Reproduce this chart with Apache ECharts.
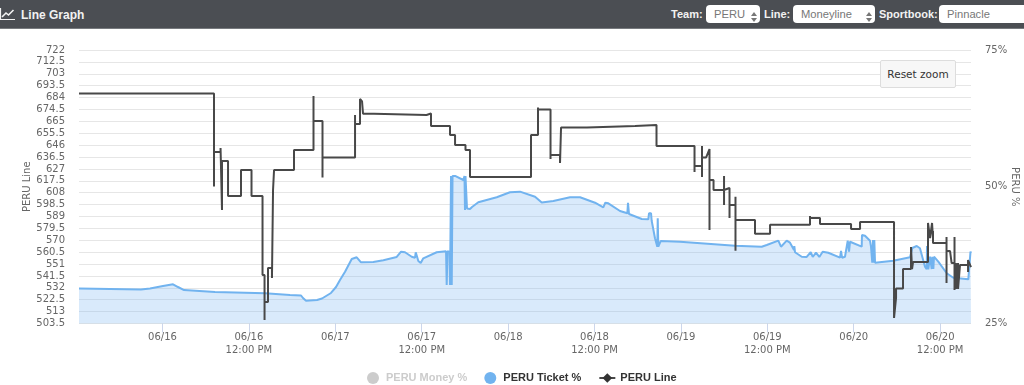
<!DOCTYPE html>
<html>
<head>
<meta charset="utf-8">
<title>Line Graph</title>
<script src="https://cdn.jsdelivr.net/npm/echarts@6/dist/echarts.min.js"></script>
<style>
  html, body { margin: 0; padding: 0; background: #fff; overflow: hidden; }
  #chart { position: absolute; left: 0; top: 0; width: 1024px; height: 385px; }
  #bar { position: absolute; left: 0; top: 0; width: 1024px; height: 28px; background: #4b4e53; border-bottom: 1px solid #777a7e;
         font-family: "Liberation Sans", sans-serif; overflow: hidden; }
  #bar svg.icon { position: absolute; left: 0; top: 7px; }
  #bar .title { position: absolute; left: 21px; top: 8px; color: #f2f2f2; font-size: 12px; font-weight: bold; }
  #bar .lbl { position: absolute; top: 8px; color: #f2f2f2; font-size: 11px; font-weight: bold; }
  #bar .sel { position: absolute; top: 5px; height: 18px; line-height: 18px; background: #fff; border-radius: 4px; color: #777;
              font-size: 11.2px; padding-left: 8px; box-sizing: border-box; }
  #bar .sel i { position: absolute; right: 3px; top: 4px; width: 6px; height: 10px; }
  #reset { position: absolute; left: 880px; top: 60px; width: 76px; height: 28px; line-height: 26px; box-sizing: border-box;
           background: #f7f7f7; border: 1px solid #ddd; border-radius: 2px; color: #333; text-align: center;
           font-family: "DejaVu Sans", sans-serif; font-size: 10.5px; }
</style>
</head>
<body>
<div id="chart"></div>
<div id="bar">
  <svg class="icon" width="16" height="14" viewBox="0 0 16 14"><path d="M0.5 1V12.5H15" fill="none" stroke="#f2f2f2" stroke-width="1.2"/><path d="M2 10L6 6L8.5 8L13.5 3" fill="none" stroke="#f2f2f2" stroke-width="1.6"/></svg>
  <span class="title">Line Graph</span>
  <span class="lbl" style="left:671px">Team:</span>
  <div class="sel" style="left:706px;width:54px">PERU<i><svg width="6" height="10"><path d="M0 4L3 0L6 4ZM0 6L3 10L6 6Z" fill="#777"/></svg></i></div>
  <span class="lbl" style="left:764px">Line:</span>
  <div class="sel" style="left:793px;width:82px">Moneyline<i><svg width="6" height="10"><path d="M0 4L3 0L6 4ZM0 6L3 10L6 6Z" fill="#777"/></svg></i></div>
  <span class="lbl" style="left:879px">Sportbook:</span>
  <div class="sel" style="left:939px;width:95px">Pinnacle</div>
</div>
<div id="reset">Reset zoom</div>
<script>
// x values are hours counted from 06/16 00:00
const X_MIN = -11.6;
const X_MAX = 112.29;
const tickHours = [0, 12, 24, 36, 48, 60, 72, 84, 96, 108];
const tickLabels = ['06/16', '06/16\n12:00 PM', '06/17', '06/17\n12:00 PM', '06/18', '06/18\n12:00 PM', '06/19', '06/19\n12:00 PM', '06/20', '06/20\n12:00 PM'];

const moneyPercent = [];

const ticketPercent = [
  [-11.6, 31.4], [-2.99, 31.2], [-1.74, 31.4], [0.07, 31.86], [1.46, 32.17], [2.15, 31.67], [2.99, 31.12], [7.29, 30.76],
  [14.24, 30.52], [17.71, 30.21], [19.24, 30.12], [19.51, 29.66], [19.93, 29.17], [21.46, 29.3], [22.15, 29.57], [23.4, 30.58],
  [24.1, 31.67], [24.65, 32.95], [25.35, 34.47], [26.28, 36.79], [26.97, 37.1], [27.15, 36.97], [27.57, 36.19], [29.28, 36.24],
  [30.67, 36.55], [32.53, 37.16], [33.13, 38.13], [33.68, 38.02], [34.61, 37.21], [35.07, 37.03], [35.17, 38.02], [35.53, 36.43],
  [35.86, 36.06], [36.22, 36.92], [38.08, 38.02], [39.38, 38.2], [39.47, 32.04], [39.58, 38.2], [39.86, 38.07], [39.93, 32.04],
  [40.07, 51.97], [40.17, 32.04], [40.28, 51.97], [40.63, 51.97], [41.78, 51.23], [41.94, 51.97], [42.01, 45.75], [42.08, 51.97],
  [42.22, 51.97], [42.29, 46.02], [42.71, 45.93], [42.99, 46.3], [43.86, 47.16], [46.42, 48.07], [48.26, 48.99], [49.65, 49.1],
  [51.74, 48.18], [52.67, 47.12], [54.28, 47.4], [56.6, 48.07], [57.99, 48.07], [60.07, 47.08], [61.22, 46.24], [61.46, 45.88],
  [61.5, 47.08], [61.92, 46.97], [63.54, 45.57], [64.56, 45.15], [64.65, 47.08], [64.79, 45.02], [66.56, 44.1], [67.47, 44.05],
  [67.57, 45.15], [67.85, 45.15], [67.94, 43.79], [68.4, 40.58], [68.72, 39.04], [68.78, 44.23], [68.86, 39.04], [69.19, 40.08],
  [71.88, 39.95], [79.51, 39.22], [83.22, 39.04], [83.92, 39.35], [85.53, 40.14], [85.9, 39.04], [86.69, 40.14], [87.15, 39.77],
  [87.71, 38.44], [87.75, 39.17], [87.85, 38.02], [88.78, 37.21], [89.47, 37.16], [90.03, 38.07], [90.31, 37.16], [90.76, 37.94],
  [91.22, 37.16], [91.69, 38.13], [92.47, 37.94], [94.1, 37.03], [94.24, 38.25], [94.38, 37.03], [94.79, 37.21], [95.17, 40.14],
  [95.35, 38.13], [95.49, 39.95], [97.11, 39.04], [97.15, 41.18], [97.57, 41.05], [98.26, 40.14], [98.4, 39.04], [98.58, 36.12],
  [98.68, 40.27], [98.78, 36.12], [98.86, 40.27], [98.96, 36.12], [101.5, 36.48], [103.82, 37.1], [104.14, 38.8], [104.75, 39.17],
  [105.2, 38.75], [105.9, 35.38], [106.14, 34.91], [106.18, 39.17], [106.36, 34.91], [106.6, 37.21], [106.83, 34.96], [106.92, 37.21],
  [107.06, 34.96], [107.15, 37.21], [107.75, 36.3], [108.92, 34.18], [109.83, 33.37], [111.92, 33.08], [112.15, 32.95], [112.22, 38.13],
  [112.29, 37.89],
];

const peruLine = [
  [-11.6, 687.3], [7.15, 687.3], [7.15, 613], [7.15, 640.5], [8.06, 640.5], [8.06, 643.7], [8.26, 594.2], [8.26, 633.3],
  [9.1, 633.3], [9.1, 605.4], [10.9, 605.4], [10.9, 626.1], [12.36, 626.1], [12.36, 605.4], [13.89, 605.4], [13.89, 542.3],
  [14.17, 542.3], [14.17, 506.3], [14.17, 520.7], [14.65, 520.7], [14.65, 547.8], [15.2, 547.8], [15.2, 539.9], [15.35, 610.2],
  [15.49, 610.2], [15.49, 626.1], [18.26, 626.1], [18.26, 642.1], [20.97, 642.1], [20.97, 685.3], [20.97, 665.3], [22.22, 665.3],
  [22.22, 620.2], [22.22, 636.1], [26.74, 636.1], [26.74, 670.1], [26.74, 662.9], [27.15, 662.9], [27.43, 662.9], [27.43, 682.9],
  [27.71, 680.9], [27.85, 671.1], [29.37, 671.1], [29.37, 670.1], [36.67, 670.1], [36.67, 671.3], [37.29, 671.3], [37.29, 661.3],
  [39.93, 661.3], [39.93, 654.1], [40.63, 654.1], [40.63, 646.1], [42.08, 646.1], [42.08, 642.1], [42.71, 642.1], [42.71, 620.5],
  [51.18, 620.5], [51.18, 654.1], [52.15, 654.1], [52.15, 676.1], [52.15, 674.5], [53.89, 674.5], [53.89, 634.9], [53.89, 638.1],
  [55.21, 638.1], [55.21, 631.7], [55.35, 660.1], [58.96, 660.1], [58.96, 661.3], [65.63, 661.3], [65.63, 662.1], [68.61, 662.1],
  [68.61, 645.3], [73.89, 645.3], [73.89, 624.5], [73.89, 629.3], [74.93, 629.3], [74.93, 645.3], [74.93, 620.5], [74.93, 636.1],
  [75.49, 636.1], [75.97, 642.9], [75.97, 578.2], [75.97, 618.2], [76.53, 618.2], [76.53, 610.2], [77.99, 610.2], [77.99, 621.4],
  [77.99, 598.2], [77.99, 610.2], [78.75, 611.8], [78.75, 587.8], [78.75, 598.2], [79.58, 598.2], [79.58, 604.8], [79.58, 561.7],
  [79.58, 586.2], [82.29, 586.2], [82.29, 575.3], [84.38, 575.3], [84.38, 582.4], [89.93, 582.4], [89.93, 589.4], [89.93, 587.8],
  [91.32, 587.8], [91.32, 583], [95.63, 583], [95.63, 579], [96.88, 579], [96.88, 584.6], [101.6, 584.6], [101.6, 507.9],
  [101.88, 523.9], [101.88, 531.5], [102.85, 531.5], [102.85, 547], [103.96, 547], [103.96, 564.6], [104.1, 547], [104.24, 552.6],
  [106.32, 552.6], [106.32, 583.8], [106.6, 571.8], [106.88, 583.8], [107.01, 571.8], [107.01, 577.4], [107.01, 567.8], [108.89, 567.8],
  [108.89, 572.6], [108.89, 535.9], [108.89, 561.4], [109.38, 561.4], [109.6, 560.6], [109.6, 551.8], [110, 551.8], [110, 572.6],
  [110, 530.3], [110.2, 551.8], [110.2, 531.1], [110.49, 551.8], [110.49, 531.1], [110.76, 531.1], [110.76, 550.2], [111.88, 550.2],
  [111.88, 544.6], [111.88, 554.2], [112.29, 548.6],
];

const chart = echarts.init(document.getElementById('chart'));

chart.setOption({
  animation: false,
  backgroundColor: '#fff',
  textStyle: { fontFamily: '"DejaVu Sans", sans-serif' },
  grid: { left: 79, right: 53, top: 50, bottom: 61.5, outerBoundsMode: 'none' },
  legend: {
    bottom: 1,
    left: 367,
    padding: 0,
    itemWidth: 16,
    itemHeight: 12,
    itemGap: 17,
    inactiveColor: '#ccc',
    textStyle: { fontFamily: '"Liberation Sans", sans-serif', fontSize: 11, fontWeight: 'bold', color: '#333' },
    selected: { 'PERU Money %': false },
    data: [
      { name: 'PERU Money %', icon: 'circle' },
      { name: 'PERU Ticket %', icon: 'circle' },
      { name: 'PERU Line' },
    ],
  },
  xAxis: {
    type: 'value',
    min: X_MIN,
    max: X_MAX,
    splitLine: { show: false },
    axisLine: { show: false },
    axisTick: { show: true, customValues: tickHours, length: 9, lineStyle: { color: '#ccd6eb' } },
    axisLabel: {
      customValues: tickHours,
      color: '#666',
      fontSize: 10,
      lineHeight: 13,
      margin: 7,
      formatter: v => tickLabels[tickHours.indexOf(v)],
    },
  },
  yAxis: [
    {
      type: 'value',
      name: 'PERU Line',
      nameLocation: 'middle',
      nameGap: 47,
      nameMoveOverlap: false,
      nameTextStyle: { color: '#666', fontSize: 10 },
      min: 503.5,
      max: 722,
      interval: 9.5,
      axisLine: { show: false },
      axisTick: { show: false },
      axisLabel: { color: '#666', fontSize: 10, margin: 14, padding: [2, 0, 0, 0] },
      splitLine: { lineStyle: { color: '#e6e6e6' } },
    },
    {
      type: 'value',
      name: 'PERU %',
      nameLocation: 'middle',
      nameGap: 39,
      nameMoveOverlap: false,
      nameRotate: -90,
      nameTextStyle: { color: '#666', fontSize: 10 },
      min: 25,
      max: 75,
      interval: 25,
      axisLine: { show: false },
      axisTick: { show: false },
      axisLabel: { color: '#666', fontSize: 10, margin: 14, padding: [2, 0, 0, 0], formatter: '{value}%' },
      splitLine: { show: false },
    },
  ],
  series: [
    {
      name: 'PERU Money %',
      type: 'line',
      yAxisIndex: 1,
      showSymbol: false,
      itemStyle: { color: '#bbb' },
      data: moneyPercent,
    },
    {
      name: 'PERU Ticket %',
      type: 'line',
      yAxisIndex: 1,
      showSymbol: false,
      lineStyle: { color: '#71b3ef', width: 2 },
      itemStyle: { color: '#71b3ef' },
      areaStyle: { color: '#71b3ef', opacity: 0.27 },
      data: ticketPercent,
    },
    {
      name: 'PERU Line',
      type: 'line',
      yAxisIndex: 0,
      symbol: 'diamond',
      symbolSize: 5,
      showSymbol: false,
      lineStyle: { color: '#484848', width: 2 },
      itemStyle: { color: '#333' },
      data: peruLine,
    },
  ],
});
</script>
</body>
</html>
